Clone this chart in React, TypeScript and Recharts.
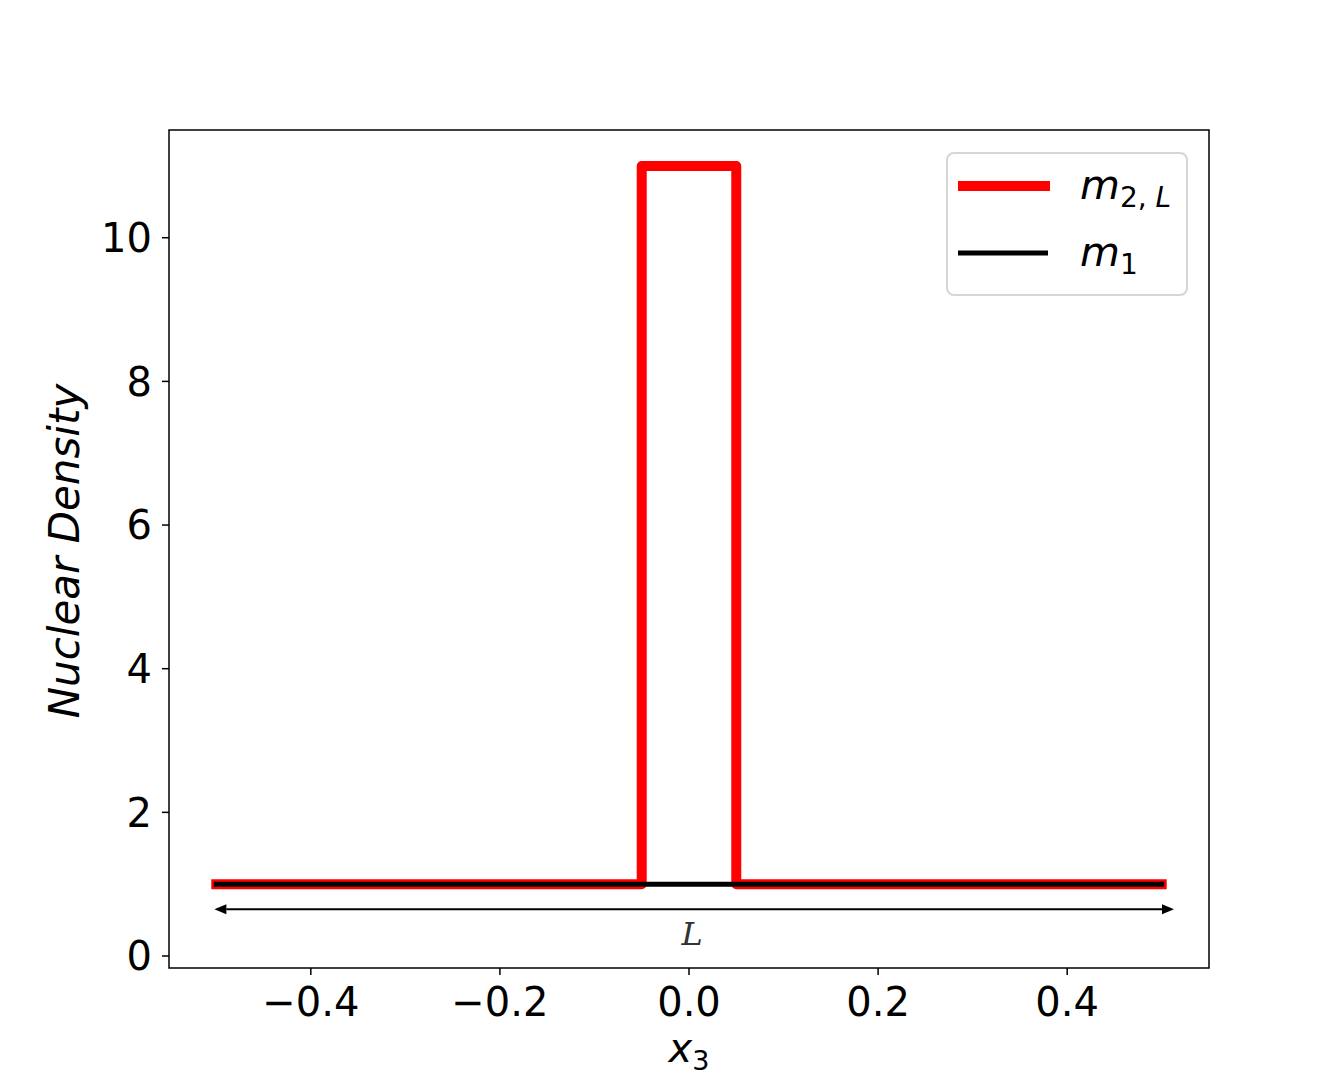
import React from 'react';
import { LineChart, Line, XAxis, YAxis, ReferenceArea, ReferenceLine, Legend } from 'recharts';

// Data
const redX = [-0.5, -0.05, -0.05, 0.05, 0.05, 0.5];
const redY = [1, 1, 11, 11, 1, 1];
const blackX = [-0.5, 0.5];
const blackY = [1, 1];
const xTicks = [-0.4, -0.2, 0, 0.2, 0.4];
const yTicks = [0, 2, 4, 6, 8, 10];
const xDomain = [-0.55, 0.55];
const yDomain = [-0.167, 11.5];
const arrowX = [-0.502, 0.513];
const arrowY = 0.65;

const redData = redX.map((x, i) => ({ x, y: redY[i] }));
const blackData = blackX.map((x, i) => ({ x, y: blackY[i] }));

const FONT = '"DejaVu Sans", sans-serif';

const fmtX = (v: number) => v.toFixed(1).replace('-', '\u2212');

const ArrowShape = (props: any) => {
  const { x1, y1, x2, y2 } = props;
  const hl = 12;
  const hw = 5;
  const midX = (x1 + x2) / 2;
  return (
    <g>
      <line x1={x1 + hl} y1={y1} x2={x2 - hl} y2={y2} stroke="#000" strokeWidth={2} />
      <polygon points={`${x1},${y1} ${x1 + hl},${y1 - hw} ${x1 + hl},${y1 + hw}`} fill="#000" />
      <polygon points={`${x2},${y2} ${x2 - hl},${y2 - hw} ${x2 - hl},${y2 + hw}`} fill="#000" />
      <text x={midX - 2} y={y1 + 36} textAnchor="middle" fontFamily='"DejaVu Serif", serif' fontStyle="italic" fontSize={32} fill="#333">
        L
      </text>
    </g>
  );
};

const XLabel = (props: any) => {
  const vb = props.viewBox || {};
  const cx = vb.x + vb.width / 2;
  return (
    <text x={cx} y={vb.y + 94} textAnchor="middle" fontFamily={FONT} fill="#000">
      <tspan fontStyle="italic" fontSize={40}>x</tspan>
      <tspan fontSize={27} dy={8}>3</tspan>
    </text>
  );
};

const YLabel = (props: any) => {
  const vb = props.viewBox || {};
  const cx = 64;
  const cy = vb.y + vb.height / 2 + 2;
  return (
    <text x={cx} y={cy} textAnchor="middle" dominantBaseline="central" transform={`rotate(-90 ${cx} ${cy})`} fontFamily={FONT} fontStyle="italic" fontSize={42} fill="#000">
      Nuclear Density
    </text>
  );
};

const LegendBox = () => (
  <div style={{ width: 242, height: 144, boxSizing: 'border-box', border: '2px solid #d6d6d6', borderRadius: 8, background: '#fff' }}>
    <svg width={238} height={140} style={{ display: 'block' }}>
      <line x1={10} y1={32} x2={102} y2={32} stroke="#ff0000" strokeWidth={10} />
      <text x={132} y={45} fontFamily={FONT} fill="#000">
        <tspan fontStyle="italic" fontSize={41}>m</tspan>
        <tspan fontSize={28} dy={8}>2, </tspan>
        <tspan fontSize={28} fontStyle="italic">L</tspan>
      </text>
      <line x1={10} y1={99} x2={100} y2={99} stroke="#000" strokeWidth={5} />
      <text x={132} y={112} fontFamily={FONT} fill="#000">
        <tspan fontStyle="italic" fontSize={41}>m</tspan>
        <tspan fontSize={28} dy={8}>1</tspan>
      </text>
    </svg>
  </div>
);

export default function App() {
  return (
    <div style={{ position: 'absolute', left: 0, top: 0, width: 1342, height: 1089, background: '#fff' }}>
      <LineChart width={1342} height={1089} margin={{ top: 130, right: 133, bottom: 0, left: 0 }}>
        <XAxis
          dataKey="x"
          type="number"
          domain={xDomain}
          ticks={xTicks}
          tickFormatter={fmtX}
          allowDataOverflow
          height={121}
          axisLine={false}
          tickLine={{ stroke: '#000', strokeWidth: 1.5 }}
          tickSize={7}
          tickMargin={13}
          tick={{ fill: '#000', fontSize: 40, fontFamily: FONT }}
          label={<XLabel />}
        />
        <YAxis
          type="number"
          domain={yDomain}
          ticks={yTicks}
          allowDataOverflow
          width={169}
          axisLine={false}
          tickLine={{ stroke: '#000', strokeWidth: 1.5 }}
          tickSize={7}
          tickMargin={10}
          tick={{ fill: '#000', fontSize: 40, fontFamily: FONT }}
          label={<YLabel />}
        />
        <Line data={redData} dataKey="y" type="linear" stroke="#ff0000" strokeWidth={10} strokeLinejoin="round" strokeLinecap="square" dot={false} activeDot={false} isAnimationActive={false} />
        <Line data={blackData} dataKey="y" type="linear" stroke="#000" strokeWidth={5} strokeLinecap="square" dot={false} activeDot={false} isAnimationActive={false} />
        <ReferenceLine
          segment={[{ x: arrowX[0], y: arrowY }, { x: arrowX[1], y: arrowY }]}
          shape={ArrowShape}
          ifOverflow="visible"
        />
        <ReferenceArea x1={xDomain[0]} x2={xDomain[1]} y1={yDomain[0]} y2={yDomain[1]} fill="none" fillOpacity={0} stroke="#000" strokeWidth={1.5} ifOverflow="visible" />
        <Legend
          layout="horizontal"
          verticalAlign="middle"
          align="center"
          content={<LegendBox />}
          wrapperStyle={{ position: 'absolute', left: 946, top: 152, bottom: 'auto', width: 242, height: 144 }}
        />
      </LineChart>
    </div>
  );
}
